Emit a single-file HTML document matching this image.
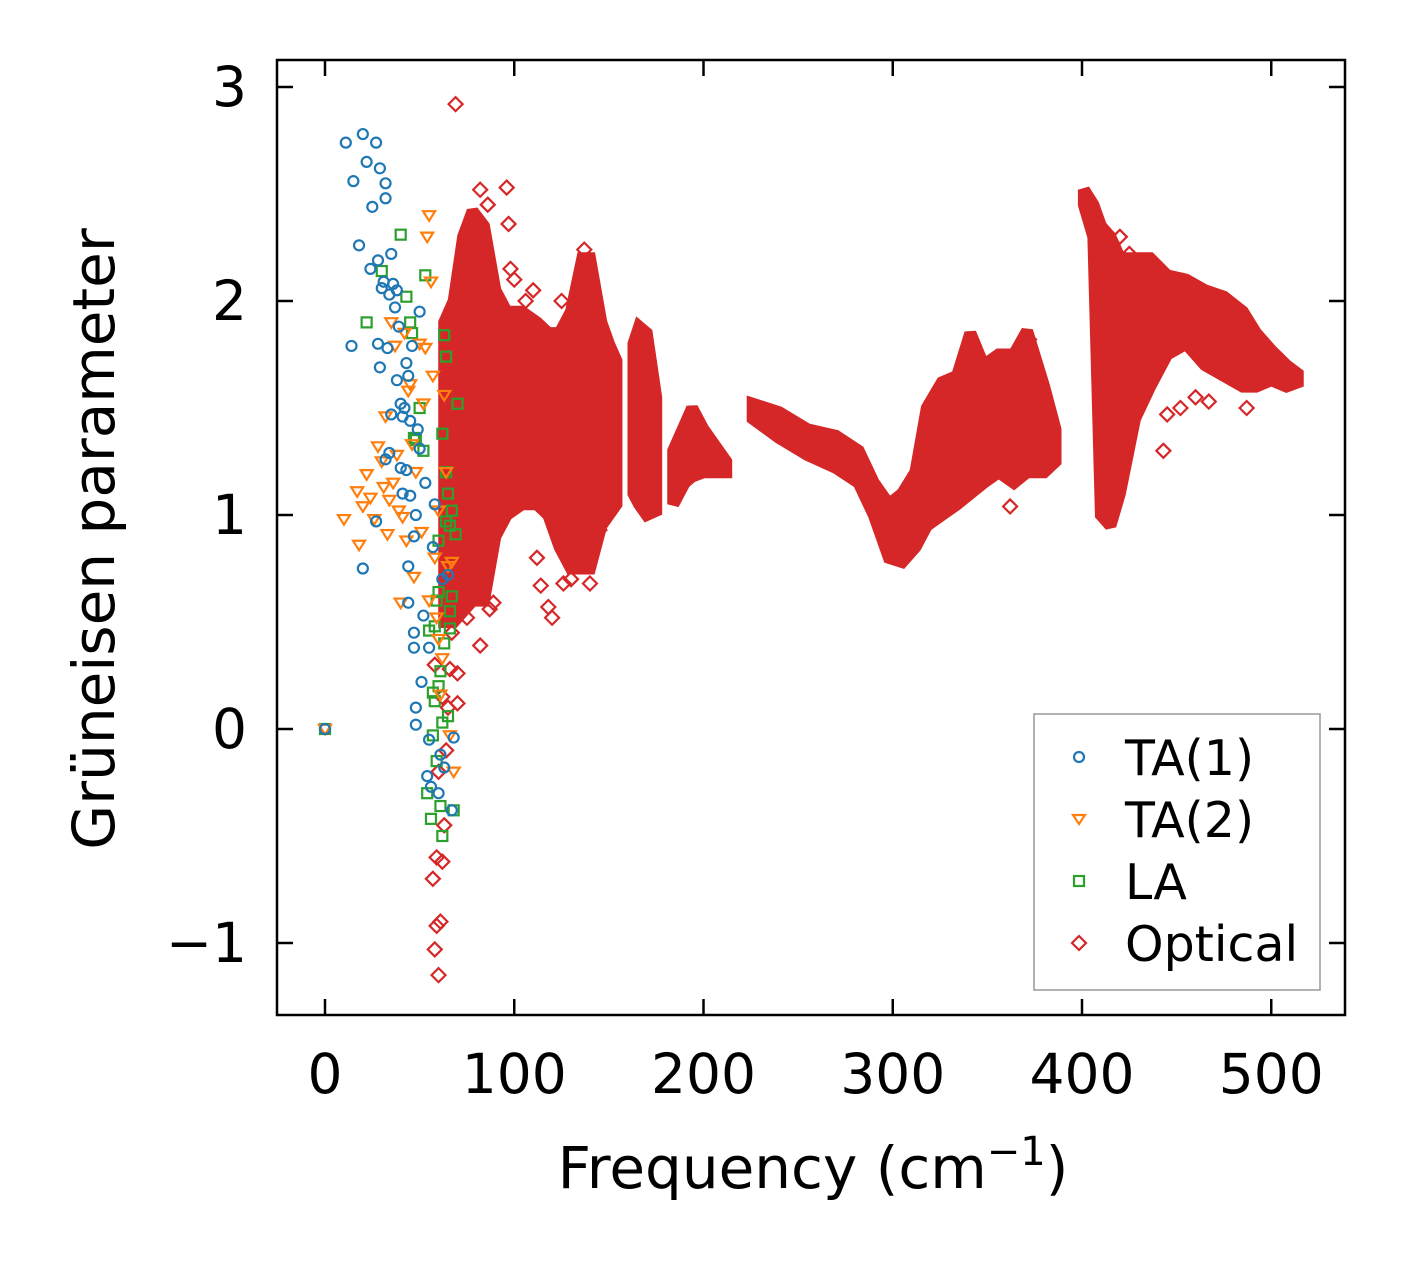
<!DOCTYPE html>
<html><head><meta charset="utf-8"><style>
html,body{margin:0;padding:0;background:#fff;}
svg{display:block;font-family:"DejaVu Sans","Liberation Sans",sans-serif;}
</style></head><body>
<svg id="chart" width="1406" height="1264" viewBox="0 0 1406 1264">
<g id="envelopes"></g>
<g id="marks"></g>
<g id="axes"></g>
</svg>
<script>
const ta1 = [[0,0],[11,2.74],[14,1.79],[15,2.56],[18,2.26],[20,2.78],[20,0.75],[22,2.65],[24,2.15],[25,2.44],[27,2.74],[27,0.97],[28,2.19],[28,1.80],[29,2.62],[29,1.69],[30,2.06],[31,2.09],[32,2.55],[32,2.48],[32,1.26],[33,1.78],[34,2.03],[34,1.29],[35,2.22],[35,1.47],[36,2.08],[37,1.97],[38,2.05],[38,1.63],[39,1.88],[40,1.52],[40,1.22],[41,1.10],[41,1.46],[42,1.50],[43,1.71],[43,1.21],[44,1.65],[44,0.76],[44,0.59],[45,1.44],[45,1.09],[46,1.79],[47,0.45],[47,0.38],[47,0.90],[48,1.00],[48,0.10],[48,0.02],[49,1.40],[50,1.95],[50,1.31],[51,0.22],[52,0.53],[53,1.15],[54,-0.22],[55,-0.05],[55,0.38],[56,-0.27],[57,0.85],[58,1.05],[60,-0.30],[61,-0.12],[63,-0.18],[67,-0.38],[68,-0.04],[62,0.70],[65,0.72]];
const ta2 = [[0,0],[10,0.98],[17,1.11],[18,0.86],[20,1.04],[22,1.19],[24,1.08],[26,0.98],[28,1.32],[30,1.25],[31,1.13],[32,1.46],[33,0.91],[34,1.07],[35,1.90],[36,1.15],[37,1.79],[38,1.28],[39,1.02],[40,0.59],[41,0.99],[42,1.85],[43,0.88],[44,1.58],[45,1.61],[46,1.33],[47,0.71],[48,1.20],[50,1.80],[51,0.92],[52,1.52],[53,1.78],[54,2.30],[55,2.40],[56,2.09],[57,1.65],[58,0.80],[59,0.52],[60,0.42],[61,0.16],[62,0.33],[63,1.56],[64,1.20],[65,0.76],[66,-0.03],[67,0.78],[68,-0.20],[60,1.02],[55,0.60]];
const la = [[0,0],[22,1.90],[30,2.14],[40,2.31],[43,2.02],[45,1.90],[46,1.85],[47,1.36],[48,1.35],[50,1.50],[52,1.30],[53,2.12],[55,0.46],[56,-0.42],[57,0.17],[58,0.48],[59,0.60],[59,-0.15],[60,0.88],[60,0.64],[61,0.27],[61,-0.36],[62,1.38],[62,0.03],[63,1.84],[63,0.40],[64,1.74],[64,1.20],[65,1.10],[65,0.06],[66,0.95],[66,0.55],[67,1.02],[67,0.62],[68,-0.38],[69,0.91],[70,1.52],[54,-0.30],[57,-0.03],[62,-0.50],[58,0.13],[60,0.20],[64,0.97],[66,0.47]];
const opticalPoints = [[69,2.92],[60,-1.15],[58,-1.03],[59,-0.92],[61,-0.90],[57,-0.70],[59,-0.60],[62,-0.62],[63,-0.45],[60,-0.20],[64,-0.10],[65,0.10],[66,0.28],[67,0.45],[70,0.12],[70,0.26],[68,0.62],[72,0.75],[75,0.52],[82,0.39],[84,0.66],[87,0.56],[89,0.59],[82,2.52],[96,2.53],[97,2.36],[98,2.15],[112,0.80],[114,0.67],[118,0.57],[120,0.52],[126,0.68],[130,0.70],[140,0.68],[137,2.24],[145,0.93],[58,0.30],[62,0.15],[66,1.90],[70,1.74],[443,1.30],[452,1.50],[445,1.47],[460,1.55],[467,1.53],[487,1.50],[362,1.04],[372,1.82],[408,2.27],[413,2.28],[420,2.30],[425,2.22],[430,2.15],[418,1.95],[412,1.00],[414,1.05],[110,2.05],[125,2.0],[86,2.45],[100,2.1],[106,2.0]];
// optical dense regions: [frequency, low, high]
const opticalBand1 = [[63,0.5,1.9],[68,0.5,2.0],[73,0.55,2.3],[78,0.6,2.42],[84,0.6,2.35],[90,0.9,2.05],[96,1.0,1.95],[104,1.05,1.95],[112,1.05,1.9],[118,1.0,1.85],[124,0.85,1.85],[130,0.75,1.95],[136,0.75,2.2],[140,0.75,2.2],[146,0.95,1.9],[150,1.0,1.8],[154,1.05,1.72]];
const opticalBand2 = [[163,1.1,1.8],[166,1.05,1.88],[170,1.0,1.85],[175,1.02,1.55]];
const opticalBand3 = [[184,1.05,1.3],[190,1.15,1.42],[194,1.18,1.5],[200,1.2,1.4],[212,1.2,1.25]];
const opticalBand4 = [[226,1.45,1.52],[240,1.36,1.48],[255,1.28,1.4],[270,1.22,1.37],[282,1.15,1.3],[290,1.0,1.15],[298,0.8,1.05],[305,0.78,1.1],[312,0.85,1.2],[318,0.95,1.5],[326,1.0,1.62],[334,1.05,1.65],[341,1.1,1.85],[348,1.15,1.7],[356,1.2,1.75],[364,1.15,1.75],[371,1.2,1.86],[380,1.2,1.6],[386,1.25,1.4]];
const opticalBand5 = [[401,2.45,2.52],[406,2.3,2.45],[410,1.0,2.35],[415,0.95,2.3],[420,1.1,2.2],[428,1.45,2.2],[436,1.6,2.2],[445,1.75,2.12],[455,1.8,2.1],[465,1.7,2.05],[475,1.65,2.02],[485,1.6,1.95],[492,1.6,1.85],[500,1.63,1.77],[508,1.6,1.7],[514,1.62,1.66]];
const xTicks = [0,100,200,300,400,500];
const yTicks = [-1,0,1,2,3];
const yTickLabels = ["\u22121","0","1","2","3"];

const NS="http://www.w3.org/2000/svg";
const L=277,R=1345,T=60,B=1015;
const xs=v=>325+v*1.8925;
const ys=v=>729-v*214;
function mk(tag,attrs,parent){const e=document.createElementNS(NS,tag);for(const k in attrs)e.setAttribute(k,attrs[k]);parent.appendChild(e);return e;}
const env=document.getElementById('envelopes'),marks=document.getElementById('marks'),axes=document.getElementById('axes');

const C={ta1:'#1f77b4',ta2:'#ff7f0e',la:'#2ca02c',op:'#d62728'};
[opticalBand1,opticalBand2,opticalBand3,opticalBand4,opticalBand5].forEach((band,i)=>{
  const top=band.map(d=>xs(d[0])+','+ys(d[2]));
  const bot=band.slice().reverse().map(d=>xs(d[0])+','+ys(d[1]));
  const p=mk('polygon',{points:top.concat(bot).join(' '),fill:C.op,stroke:C.op,'stroke-width':12,'stroke-linejoin':'miter','stroke-miterlimit':2},env);
  
  
});
function diamond(x,y,r){return `${x},${y-r} ${x+r},${y} ${x},${y+r} ${x-r},${y}`;}
function tri(x,y,r){return `${x-r},${y-r*0.7} ${x+r},${y-r*0.7} ${x},${y+r*0.9}`;}
opticalPoints.forEach(d=>{
  const e=mk('polygon',{points:diamond(xs(d[0]),ys(d[1]),7),fill:'none',stroke:C.op,'stroke-width':2.2},marks);
  
  
});
la.forEach(d=>{
  const e=mk('rect',{x:xs(d[0])-5,y:ys(d[1])-5,width:10,height:10,fill:'none',stroke:C.la,'stroke-width':2.2},marks);
  
  
});
ta2.forEach(d=>{
  const e=mk('polygon',{points:tri(xs(d[0]),ys(d[1]),6),fill:'none',stroke:C.ta2,'stroke-width':2.2},marks);
  
  
});
ta1.forEach(d=>{
  const e=mk('circle',{cx:xs(d[0]),cy:ys(d[1]),r:5,fill:'none',stroke:C.ta1,'stroke-width':2.2},marks);
  
  
});

const fr=mk('rect',{x:L,y:T,width:R-L,height:B-T,fill:'none',stroke:'#000','stroke-width':2.5},axes);


xTicks.forEach(v=>{
  const x=xs(v);
  mk('line',{x1:x,y1:B,x2:x,y2:B-16,stroke:'#000','stroke-width':2.5},axes);
  mk('line',{x1:x,y1:T,x2:x,y2:T+16,stroke:'#000','stroke-width':2.5},axes);
  const t=mk('text',{x:x,y:1093,'text-anchor':'middle','font-size':55},axes);
  t.textContent=v;
  
  
});
yTicks.forEach((v,i)=>{
  const y=ys(v);
  mk('line',{x1:L,y1:y,x2:L+16,y2:y,stroke:'#000','stroke-width':2.5},axes);
  mk('line',{x1:R,y1:y,x2:R-16,y2:y,stroke:'#000','stroke-width':2.5},axes);
  const t=mk('text',{x:247,y:y+19,'text-anchor':'end','font-size':55},axes);
  t.textContent=yTickLabels[i];
  
  
});
</script>
<svg style="position:absolute;left:0;top:0" width="1406" height="1264">
<text x="813" y="1188" text-anchor="middle" font-size="58" font-family="DejaVu Sans, Liberation Sans, sans-serif">Frequency (cm<tspan dy="-23" font-size="40">−1</tspan><tspan dy="23">)</tspan></text>
<text transform="translate(114,539) rotate(-90)" text-anchor="middle" font-size="58" font-family="DejaVu Sans, Liberation Sans, sans-serif">Grüneisen parameter</text>
<g>
<rect x="1034" y="714" width="286" height="276" fill="#fff" fill-opacity="0.8" stroke="#999" stroke-width="1.5"/>
<g><circle cx="1079" cy="757" r="5" fill="none" stroke="#1f77b4" stroke-width="2.2"/><text x="1125" y="775" font-size="49" font-family="DejaVu Sans, Liberation Sans, sans-serif">TA(1)</text></g>
<g><polygon points="1073,815 1085,815 1079,824" fill="none" stroke="#ff7f0e" stroke-width="2.2"/><text x="1125" y="837" font-size="49" font-family="DejaVu Sans, Liberation Sans, sans-serif">TA(2)</text></g>
<g><rect x="1074" y="876" width="10" height="10" fill="none" stroke="#2ca02c" stroke-width="2.2"/><text x="1125" y="899" font-size="49" font-family="DejaVu Sans, Liberation Sans, sans-serif">LA</text></g>
<g><polygon points="1079,936 1086,943 1079,950 1072,943" fill="none" stroke="#d62728" stroke-width="2.2"/><text x="1125" y="961" font-size="49" font-family="DejaVu Sans, Liberation Sans, sans-serif">Optical</text></g>
</g>
</svg>
</body></html>
